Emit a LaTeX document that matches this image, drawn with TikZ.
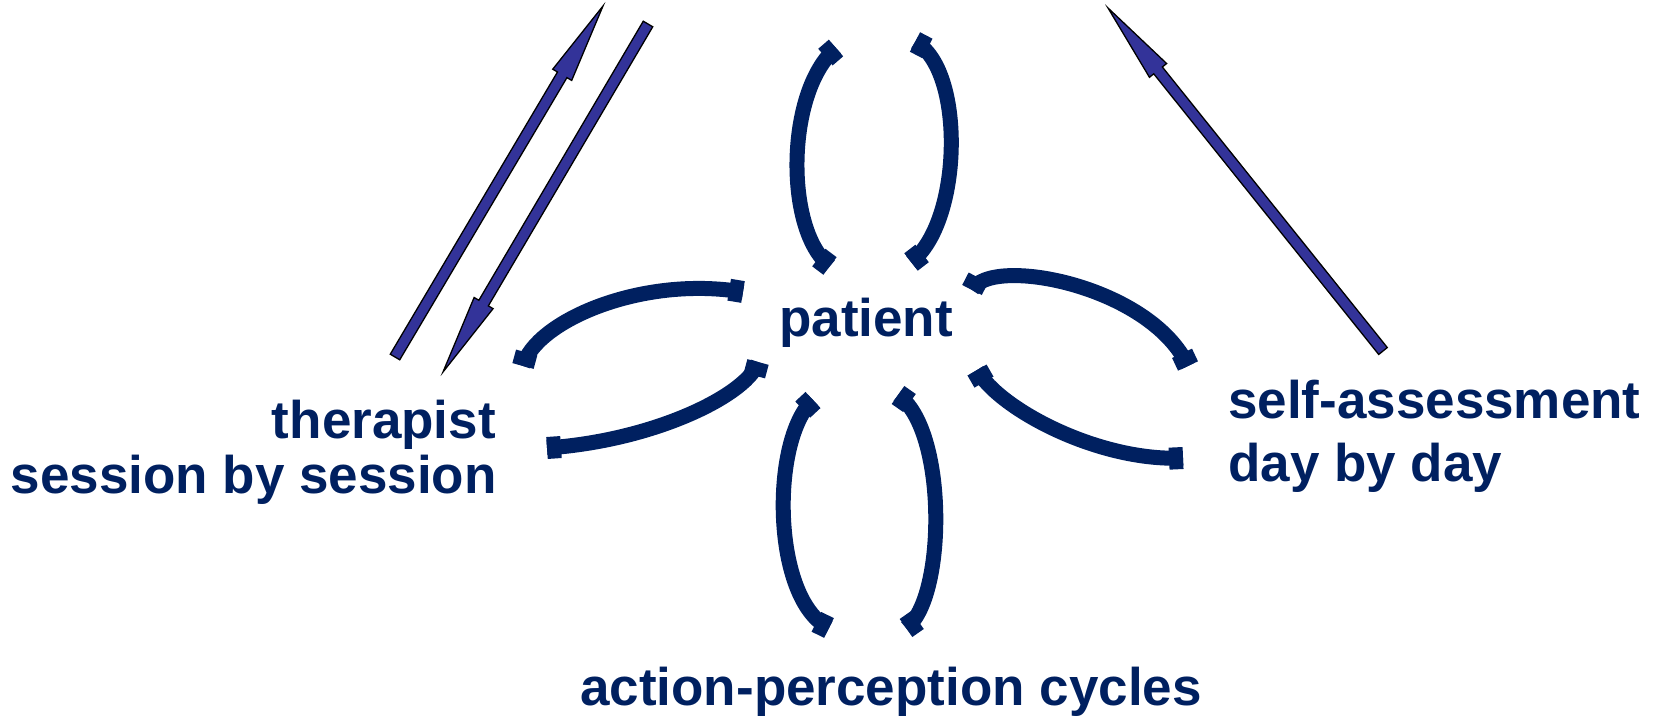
\documentclass[tikz,border=0pt]{standalone}
\usepackage{fontspec}
\setmainfont{Liberation Sans}
\usetikzlibrary{calc}

\definecolor{navy}{RGB}{0,32,96}
\definecolor{arrowblue}{RGB}{51,51,153}

\tikzset{
  label text/.style={inner sep=0pt, text=navy,
    font=\fontsize{53}{60}\selectfont\bfseries},
  arc stroke/.style={draw=navy, line width=15pt},
  arc end/.style={draw=navy, line width=22pt, line cap=butt},
  block arrow/.style={fill=arrowblue, draw=black, line width=1.3pt, line join=miter},
}

% thick curved stroke with a wider blob at each end
\newcommand{\flowarc}[4]{%
  \draw[arc stroke] (#1) .. controls (#2) and (#3) .. (#4);
  \draw[arc end] (#1) -- ($(#1)!14pt!(#2)$);
  \draw[arc end] (#4) -- ($(#4)!14pt!(#3)$);
}

% outlined block arrow from a tail coordinate to a tip coordinate
\newcommand{\blockarrow}[2]{%
  \coordinate (#2-base) at ($(#2)!80pt!(#1)$);
  \path[block arrow]
    ($(#1)!5.5pt!90:(#2)$) -- ($(#2-base)!5.5pt!90:(#2)$) --
    ($(#2-base)!11pt!90:(#2)$) -- (#2) --
    ($(#2-base)!11pt!-90:(#2)$) -- ($(#2-base)!5.5pt!-90:(#2)$) --
    ($(#1)!5.5pt!-90:(#2)$) -- cycle;
}

\begin{document}
\begin{tikzpicture}[x=1pt, y=-1pt]
  \useasboundingbox (0,0) rectangle (1656,719);

  % labels
  \node[label text, anchor=base] (patient) at (866,336) {patient};
  \node[label text, anchor=base east] (therapist) at (496,438) {therapist};
  \node[label text, anchor=base east] (session) at (497,493) {session by session};
  \node[label text, anchor=base west] (self) at (1228,418) {self-assessment};
  \node[label text, anchor=base west] (day) at (1228,481) {day by day};
  \node[label text, anchor=base] (cycles) at (891,705) {action-perception cycles};

  % arrow ends
  \coordinate (up-tail) at (395,357);
  \coordinate (up-tip) at (603,6);
  \coordinate (down-tail) at (648,24);
  \coordinate (down-tip) at (443,372);
  \coordinate (self-tail) at (1383,351);
  \coordinate (self-tip) at (1108,8);

  \blockarrow{up-tail}{up-tip}
  \blockarrow{down-tail}{down-tip}
  \blockarrow{self-tail}{self-tip}

  % cycles around the patient
  \flowarc{836,48}{785,92}{785,232}{830,266}
  \flowarc{915,42}{965,68}{963,222}{911,262}
  \flowarc{523,366}{535,322}{640,275}{743,292}
  \flowarc{972,290}{990,255}{1150,285}{1188,366}
  \flowarc{758,362}{750,392}{660,440}{547,448}
  \flowarc{977,370}{1000,410}{1100,462}{1183,458}
  \flowarc{813,400}{770,440}{772,600}{829,628}
  \flowarc{898,395}{948,430}{946,600}{906,628}
\end{tikzpicture}
\end{document}
